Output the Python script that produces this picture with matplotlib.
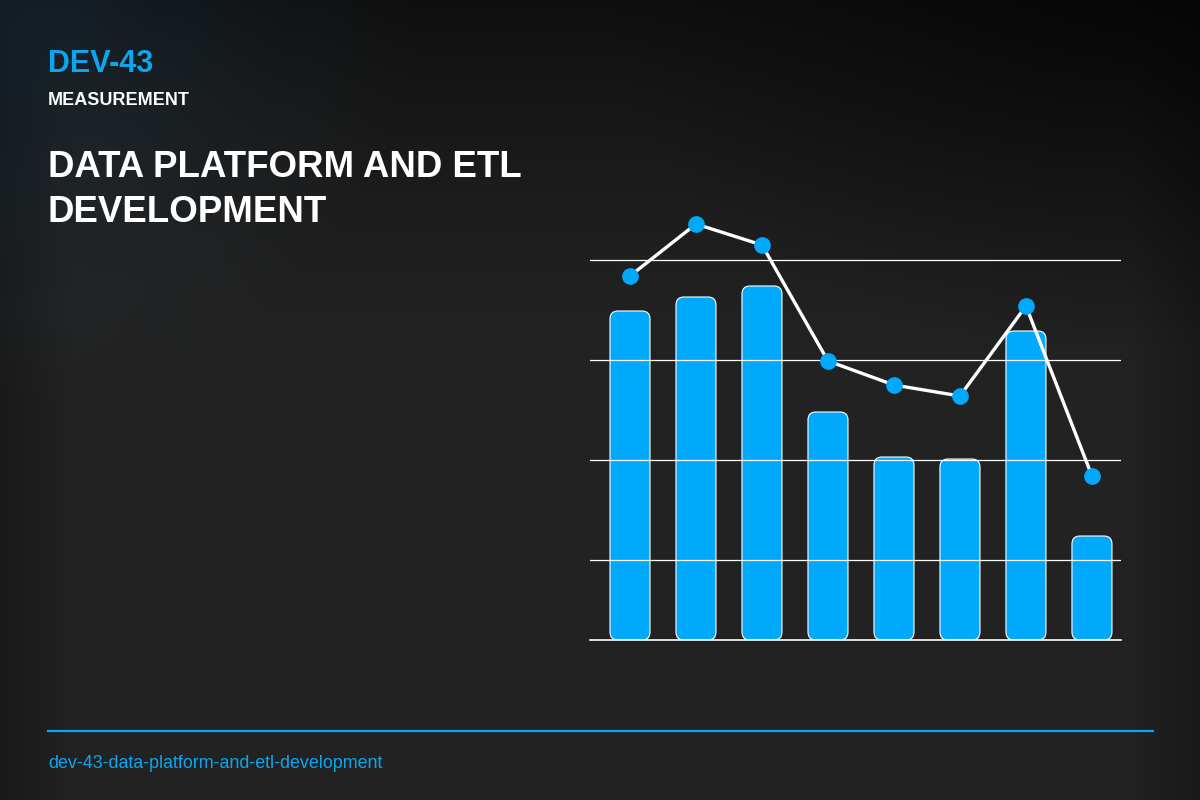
import numpy as np
import matplotlib
matplotlib.use("Agg")
import matplotlib.pyplot as plt
from matplotlib.patches import FancyBboxPatch
from matplotlib.lines import Line2D

plt.rcParams["font.family"] = ["Liberation Sans", "DejaVu Sans"]

# chart values
categories = ["P1", "P2", "P3", "P4", "P5", "P6", "P7", "P8"]
bar_values = [69.8, 72.6, 74.8, 49.6, 40.6, 40.2, 65.8, 24.8]
line_values = [76.8, 87.2, 83.0, 59.8, 55.0, 52.8, 70.8, 36.8]
grid_values = [20, 40, 60, 80]
y_min, y_max = 4, 92

BLUE = "#00a9fc"
TEXT_BLUE = "#0ba6ee"
W, H = 1200, 800

fig = plt.figure(figsize=(W / 100, H / 100), dpi=100)

# background gradient
yy, xx = np.mgrid[0:1:H * 1j, 0:1:W * 1j]
base = np.full((H, W, 3), 34 / 255.0)
top_dark = np.clip(1 - yy / 0.45, 0, 1) ** 1.5
base *= (1 - 0.55 * top_dark)[..., None]
side = np.clip(1 - xx / 0.06, 0, 1) + np.clip((xx - 0.94) / 0.06, 0, 1)
base *= (1 - 0.25 * side)[..., None]
d_tr = np.sqrt(((xx - 0.95) / 0.45) ** 2 + ((yy - 0.0) / 0.45) ** 2)
base *= (1 - 0.55 * np.clip(1 - d_tr, 0, 1))[..., None]
d_tl = np.sqrt((xx / 0.35) ** 2 + (yy / 0.5) ** 2)
glow = np.clip(1 - d_tl, 0, 1) ** 1.2
tint = np.array([6, 18, 26]) / 255.0
base = base + glow[..., None] * tint
bg = fig.add_axes([0, 0, 1, 1])
bg.imshow(np.clip(base, 0, 1), aspect="auto", extent=[0, 1, 0, 1])
bg.axis("off")

# header text
fig.text(0.04, 1 - 71.7 / H, "DEV-43", color=TEXT_BLUE, fontsize=22,
         fontweight="bold", va="baseline")
fig.text(0.04, 1 - 105 / H, "MEASUREMENT", color="white", fontsize=13,
         fontweight="bold", va="baseline")
fig.text(0.04, 1 - 176.7 / H, "DATA PLATFORM AND ETL", color="white",
         fontsize=26.4, fontweight="bold", va="baseline")
fig.text(0.04, 1 - 221.7 / H, "DEVELOPMENT", color="white",
         fontsize=26.4, fontweight="bold", va="baseline")

# footer
fig.add_artist(Line2D([0.04, 1153 / W], [1 - 731 / H, 1 - 731 / H],
                      color=TEXT_BLUE, lw=1.6, transform=fig.transFigure))
fig.text(0.04, 1 - 768 / H, "dev-43-data-platform-and-etl-development",
         color=TEXT_BLUE, fontsize=12.9, va="baseline")

# chart
ax = fig.add_axes([590 / W, 1 - 640 / H, 531 / W, 440 / H])
ax.patch.set_alpha(0)
ax.set_xlim(-0.606, 7.44)
ax.set_ylim(y_min, y_max)
for s in ax.spines.values():
    s.set_visible(False)
ax.set_xticks([])
ax.set_yticks([])

x = np.arange(len(categories))
bar_w = 0.606
# pixel scale for rounded corners
px_x = (ax.get_xlim()[1] - ax.get_xlim()[0]) / 531
px_y = (y_max - y_min) / 440
for xi, v in zip(x, bar_values):
    p = FancyBboxPatch((xi - bar_w / 2, y_min), bar_w, v - y_min,
                       boxstyle="round,pad=0,rounding_size=%f" % (8 * px_x),
                       mutation_aspect=px_y / px_x,
                       facecolor=BLUE, edgecolor="white", lw=0.8, zorder=2)
    ax.add_patch(p)

for g in grid_values:
    ax.axhline(g, color="white", lw=0.9, zorder=3)
ax.axhline(y_min, color="white", lw=1.2, zorder=3, clip_on=False)

ax.plot(x, line_values, color="white", lw=2.4, zorder=4,
        marker="o", markersize=11, markerfacecolor=BLUE,
        markeredgecolor=BLUE, clip_on=False)

fig.savefig("out.png", dpi=100)
